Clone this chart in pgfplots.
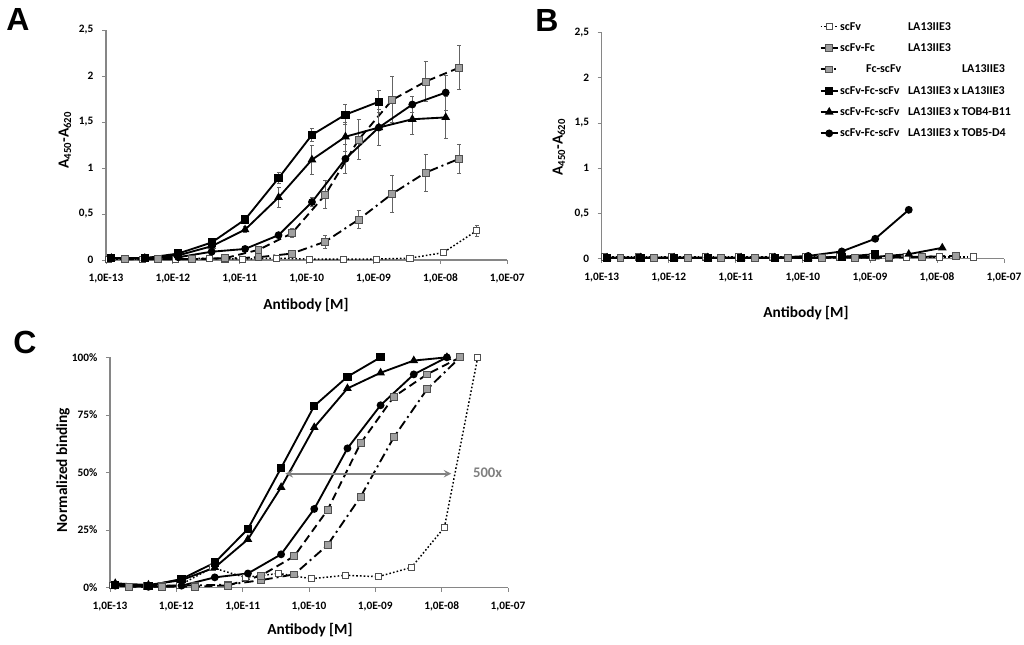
\documentclass[border=0pt]{standalone}
\usepackage{fontspec}
\setmainfont{Carlito}
\newfontfamily\arialfont{Liberation Sans}
\usepackage{pgfplots}
\pgfplotsset{compat=1.18}

\definecolor{axgrey}{RGB}{134,134,134}
\definecolor{mfill}{RGB}{160,160,160}
\definecolor{mdraw}{RGB}{80,80,80}
\definecolor{errgrey}{RGB}{100,100,100}
\definecolor{arrgrey}{RGB}{128,128,128}

\pgfplotsset{
  mypanel/.style={
    scale only axis, clip=false,
    xmin=1e-13, xmax=1e-7,
    axis x line*=bottom, axis y line*=left,
    axis line style={draw=axgrey, line width=0.8pt},
    xtick={1e-13,1e-12,1e-11,1e-10,1e-9,1e-8,1e-7},
    xticklabels={{1,0E-13},{1,0E-12},{1,0E-11},{1,0E-10},{1,0E-09},{1,0E-08},{1,0E-07}},
    xminorticks=false,
    tick style={draw=axgrey, line width=0.6pt},
    tick align=outside, major tick length=3pt,
    ticklabel style={font=\fontsize{8.5}{9}\selectfont\bfseries},
    xticklabel style={yshift=-4pt},
    yticklabel style={xshift=-3pt},
    legend image code/.code={
      \draw[mark repeat=2,mark phase=2,##1]
        plot coordinates {(0pt,0pt) (6.5pt,0pt) (13pt,0pt)};},
  },
  sq/.style={black, line width=1.4pt, mark=square*, mark size=2.4pt,
    mark options={solid, fill=black}},
  tri/.style={black, line width=1.4pt, mark=triangle*, mark size=2.4pt,
    mark options={solid, fill=black}},
  circ/.style={black, line width=1.4pt, mark=*, mark size=2.2pt,
    mark options={solid, fill=black}},
  fcs/.style={black, line width=1.4pt, dash pattern=on 6pt off 3.5pt,
    mark=square*, mark size=2.6pt,
    mark options={solid, fill=mfill, draw=mdraw, line width=0.6pt}},
  fcd/.style={black, line width=1.4pt, dash pattern=on 7pt off 3pt on 1.5pt off 3pt,
    mark=square*, mark size=2.6pt,
    mark options={solid, fill=mfill, draw=mdraw, line width=0.6pt}},
  sfv/.style={black, line width=1.1pt, dash pattern=on 1.2pt off 1.6pt,
    mark=square*, mark size=2.3pt,
    mark options={solid, fill=white, draw=mdraw, line width=0.6pt}},
  eb/.style={error bars/.cd, y dir=both, y explicit,
    error bar style={errgrey, line width=0.7pt, solid},
    error mark options={rotate=90, mark size=1.5pt, errgrey, line width=0.7pt}},
}

\begin{document}
\begin{tikzpicture}[x=0.75pt, y=-0.75pt]
\useasboundingbox (0,0) rectangle (1024,645);

% ---------------- panel A ----------------
\begin{axis}[xmode=log, mypanel, at={(79.5pt,-195pt)}, anchor=south west,
  width=301pt, height=172.5pt,
  ymin=0, ymax=2.5, ytick={0,0.5,1,1.5,2,2.5},
  yticklabels={0,{0,5},1,{1,5},2,{2,5}}]
  % scFv
  \addplot[sfv, eb] coordinates {
    (1.1e-13,0.01) +- (0,0) (3.5e-13,0.01) +- (0,0) (1.1e-12,0.01) +- (0,0)
    (3.5e-12,0.02) +- (0,0) (1.1e-11,0.01) +- (0,0) (3.5e-11,0.02) +- (0,0)
    (1.1e-10,0.01) +- (0,0) (3.5e-10,0.01) +- (0,0) (1.1e-9,0.01) +- (0,0)
    (3.5e-9,0.02) +- (0,0.01) (1.1e-8,0.08) +- (0,0.01) (3.5e-8,0.32) +- (0,0.06)};
  % Fc-scFv
  \addplot[fcd, eb] coordinates {
    (1.9e-13,0.01) +- (0,0) (6e-13,0.01) +- (0,0) (1.9e-12,0.01) +- (0,0)
    (6e-12,0.015) +- (0,0) (1.9e-11,0.03) +- (0,0.01) (6e-11,0.07) +- (0,0.02)
    (1.9e-10,0.20) +- (0,0.07) (6e-10,0.44) +- (0,0.10) (1.9e-9,0.72) +- (0,0.20)
    (6e-9,0.95) +- (0,0.20) (1.9e-8,1.10) +- (0,0.16)};
  % scFv-Fc
  \addplot[fcs, eb] coordinates {
    (1.9e-13,0.01) +- (0,0) (6e-13,0.01) +- (0,0) (1.9e-12,0.01) +- (0,0)
    (6e-12,0.02) +- (0,0.01) (1.9e-11,0.11) +- (0,0.02) (6e-11,0.29) +- (0,0.05)
    (1.9e-10,0.71) +- (0,0.15) (6e-10,1.31) +- (0,0.22) (1.9e-9,1.74) +- (0,0.25)
    (6e-9,1.94) +- (0,0.22) (1.9e-8,2.09) +- (0,0.24)};
  % LA13IIE3 x TOB5-D4
  \addplot[circ, eb] coordinates {
    (1.2e-13,0.02) +- (0,0) (3.8e-13,0.02) +- (0,0) (1.2e-12,0.03) +- (0,0)
    (3.8e-12,0.09) +- (0,0.01) (1.2e-11,0.12) +- (0,0.01) (3.8e-11,0.27) +- (0,0.02)
    (1.2e-10,0.63) +- (0,0.05) (3.8e-10,1.10) +- (0,0.16) (1.2e-9,1.44) +- (0,0.20)
    (3.8e-9,1.69) +- (0,0.09) (1.2e-8,1.82) +- (0,0.19)};
  % LA13IIE3 x TOB4-B11
  \addplot[tri, eb] coordinates {
    (1.2e-13,0.02) +- (0,0) (3.8e-13,0.02) +- (0,0) (1.2e-12,0.05) +- (0,0.01)
    (3.8e-12,0.15) +- (0,0.02) (1.2e-11,0.33) +- (0,0.03) (3.8e-11,0.68) +- (0,0.11)
    (1.2e-10,1.09) +- (0,0.16) (3.8e-10,1.34) +- (0,0.16) (1.2e-9,1.44) +- (0,0.20)
    (3.8e-9,1.53) +- (0,0.17) (1.2e-8,1.55) +- (0,0.23)};
  % LA13IIE3 x LA13IIE3
  \addplot[sq, eb] coordinates {
    (1.2e-13,0.02) +- (0,0) (3.8e-13,0.02) +- (0,0) (1.2e-12,0.07) +- (0,0.01)
    (3.8e-12,0.19) +- (0,0.02) (1.2e-11,0.44) +- (0,0.02) (3.8e-11,0.89) +- (0,0.06)
    (1.2e-10,1.36) +- (0,0.07) (3.8e-10,1.58) +- (0,0.11) (1.2e-9,1.72) +- (0,0.12)};
\end{axis}

% ---------------- panel B ----------------
\begin{axis}[xmode=log, mypanel, at={(451.3pt,-194pt)}, anchor=south west,
  width=301.7pt, height=169.5pt,
  ymin=0, ymax=2.5, ytick={0,0.5,1,1.5,2,2.5},
  yticklabels={0,{0,5},1,{1,5},2,{2,5}},
  legend style={at={(0.541,1.06)}, anchor=north west, draw=none, fill=none,
    font=\fontsize{9}{10}\selectfont\bfseries, row sep=5pt, inner sep=0pt,
    nodes={inner sep=1pt, text height=7pt, text depth=2pt},
    cells={anchor=west}},
  legend cell align=left]
  \addplot[sfv] coordinates {
    (1.1e-13,0.02) (3.5e-13,0.02) (1.1e-12,0.02) (3.5e-12,0.02) (1.1e-11,0.02)
    (3.5e-11,0.02) (1.1e-10,0.02) (3.5e-10,0.02) (1.1e-9,0.02) (3.5e-9,0.02)
    (1.1e-8,0.02) (3.5e-8,0.02)};
  \addlegendentry{\makebox[51pt][l]{scFv}LA13IIE3}
  \addplot[fcs] coordinates {
    (1.9e-13,0.01) (6e-13,0.01) (1.9e-12,0.01) (6e-12,0.01) (1.9e-11,0.01)
    (6e-11,0.01) (1.9e-10,0.01) (6e-10,0.01) (1.9e-9,0.01) (6e-9,0.02)
    (1.9e-8,0.03)};
  \addlegendentry{\makebox[51pt][l]{scFv-Fc}LA13IIE3}
  \addplot[fcd] coordinates {
    (1.9e-13,0.01) (6e-13,0.01) (1.9e-12,0.01) (6e-12,0.01) (1.9e-11,0.01)
    (6e-11,0.01) (1.9e-10,0.01) (6e-10,0.01) (1.9e-9,0.02) (6e-9,0.02)
    (1.9e-8,0.03)};
  \addlegendentry{\hspace*{19.5pt}\makebox[72pt][l]{Fc-scFv}LA13IIE3}
  \addplot[sq] coordinates {
    (1.2e-13,0.01) (3.8e-13,0.01) (1.2e-12,0.01) (3.8e-12,0.01) (1.2e-11,0.01)
    (3.8e-11,0.01) (1.2e-10,0.01) (3.8e-10,0.02) (1.2e-9,0.05)};
  \addlegendentry{\makebox[51pt][l]{scFv-Fc-scFv}LA13IIE3 x LA13IIE3}
  \addplot[tri] coordinates {
    (1.2e-13,0.01) (3.8e-13,0.01) (1.2e-12,0.01) (3.8e-12,0.01) (1.2e-11,0.01)
    (3.8e-11,0.01) (1.2e-10,0.01) (3.8e-10,0.02) (1.2e-9,0.02) (3.8e-9,0.05)
    (1.2e-8,0.12)};
  \addlegendentry{\makebox[51pt][l]{scFv-Fc-scFv}LA13IIE3 x TOB4-B11}
  \addplot[circ] coordinates {
    (1.2e-13,0.01) (3.8e-13,0.01) (1.2e-12,0.01) (3.8e-12,0.01) (1.2e-11,0.01)
    (3.8e-11,0.01) (1.2e-10,0.03) (3.8e-10,0.08) (1.2e-9,0.22) (3.8e-9,0.54)};
  \addlegendentry{\makebox[51pt][l]{scFv-Fc-scFv}LA13IIE3 x TOB5-D4}
\end{axis}

% ---------------- panel C ----------------
\begin{axis}[xmode=log, mypanel, at={(82.5pt,-440.8pt)}, anchor=south west,
  width=298.5pt, height=172.8pt,
  ymin=0, ymax=100, ytick={0,25,50,75,100},
  yticklabels={0\%,25\%,50\%,75\%,100\%}]
  \addplot[sfv] coordinates {
    (1.1e-13,1) (3.5e-13,0.8) (1.1e-12,1) (3.5e-12,8.7) (1.1e-11,4.5)
    (3.5e-11,6.2) (1.1e-10,3.9) (3.5e-10,5.4) (1.1e-9,4.8) (3.5e-9,8.8)
    (1.1e-8,26.2) (3.5e-8,100)};
  \addplot[fcd] coordinates {
    (1.9e-13,0.5) (6e-13,1) (1.9e-12,1) (6e-12,1.3) (1.9e-11,3.3)
    (6e-11,5.8) (1.9e-10,18.5) (6e-10,39.5) (1.9e-9,65.3) (6e-9,86.1)
    (1.9e-8,100)};
  \addplot[fcs] coordinates {
    (1.9e-13,0.5) (6e-13,0.5) (1.9e-12,0.5) (6e-12,1) (1.9e-11,5.3)
    (6e-11,13.7) (1.9e-10,33.7) (6e-10,62.7) (1.9e-9,82.9) (6e-9,92.6)
    (1.9e-8,100)};
  \addplot[circ] coordinates {
    (1.2e-13,0.9) (3.8e-13,0.4) (1.2e-12,0.9) (3.8e-12,4.5) (1.2e-11,6.2)
    (3.8e-11,14.5) (1.2e-10,34.2) (3.8e-10,60.5) (1.2e-9,79.2) (3.8e-9,92.6)
    (1.2e-8,100)};
  \addplot[tri] coordinates {
    (1.2e-13,1.9) (3.8e-13,1.2) (1.2e-12,3.3) (3.8e-12,8.8) (1.2e-11,21)
    (3.8e-11,43.6) (1.2e-10,69.6) (3.8e-10,86.5) (1.2e-9,93.3) (3.8e-9,98.6)
    (1.2e-8,100)};
  \addplot[sq] coordinates {
    (1.2e-13,1.2) (3.8e-13,0.9) (1.2e-12,3.8) (3.8e-12,10.9) (1.2e-11,25.5)
    (3.8e-11,52) (1.2e-10,78.9) (3.8e-10,91.6) (1.2e-9,100)};
  \draw[<->, >=stealth, draw=arrgrey, line width=1.5pt]
    (axis cs:4.4e-11,49.5) -- (axis cs:1.4e-8,49.5);
  \node[anchor=west, inner sep=0pt, text=arrgrey,
    font=\fontsize{11}{12}\selectfont\bfseries] at (axis cs:2.95e-8,50) {500x};
\end{axis}

% ---------------- labels ----------------
\begin{scope}[every node/.style={font=\fontsize{11.5}{13}\selectfont\bfseries}]
  \node at (306,305) {Antibody [M]};
  \node at (806,313) {Antibody [M]};
  \node at (310,630) {Antibody [M]};
  \node[rotate=90] at (65,140) {A\textsubscript{450}-A\textsubscript{620}};
  \node[rotate=90] at (559,147) {A\textsubscript{450}-A\textsubscript{620}};
  \node[rotate=90] at (63,470) {Normalized binding};
\end{scope}
\begin{scope}[every node/.style={font=\arialfont\fontsize{24}{24}\selectfont\bfseries}]
  \node at (18,19) {A};
  \node at (547,20) {B};
  \node at (25,342) {C};
\end{scope}
\end{tikzpicture}
\end{document}
